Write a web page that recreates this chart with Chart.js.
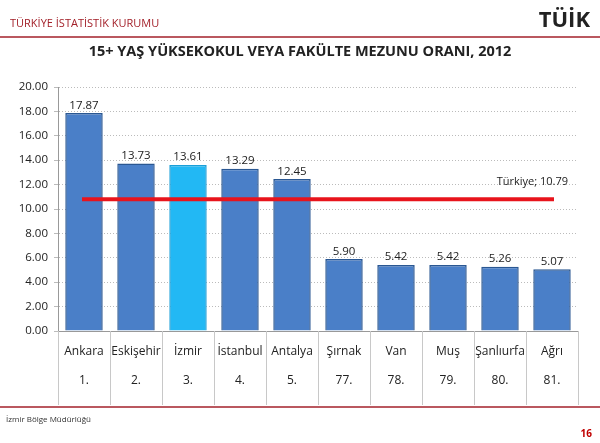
<!DOCTYPE html>
<html><head><meta charset="utf-8">
<script src="https://cdn.jsdelivr.net/npm/chart.js@4/dist/chart.umd.min.js"></script>
<style>body{margin:0;background:#fff}canvas{display:block}</style>
</head><body>
<canvas id="c" width="600" height="443"></canvas>
<script>
const iller = ['Ankara','Eskişehir','İzmir','İstanbul','Antalya','Şırnak','Van','Muş','Şanlıurfa','Ağrı'];
const siralar = ['1.','2.','3.','4.','5.','77.','78.','79.','80.','81.'];
const oranlar = [17.87,13.73,13.61,13.29,12.45,5.90,5.42,5.42,5.26,5.07];
const turkiye = 10.79;
const FONT = '"Open Sans", Lato, sans-serif';

// ......sayfa çerçevesi, etiketler, Türkiye çizgisi.........
const sayfa = {
  id: 'sayfa',
  afterDraw(ch) {
    const c = ch.ctx, x = ch.scales.x, y = ch.scales.y, a = ch.chartArea;
    c.save();
    c.fillStyle = '#a3212a'; c.font = '11px ' + FONT; c.textBaseline = 'middle';
    c.fillText('TÜRKİYE İSTATİSTİK KURUMU', 10, 24);
    c.strokeStyle = '#a3212a'; c.lineWidth = 1.5;
    c.beginPath(); c.moveTo(0, 37); c.lineTo(600, 37); c.stroke();
    c.beginPath(); c.moveTo(0, 407); c.lineTo(600, 407); c.stroke();
    c.font = 'bold 22px ' + FONT; c.textAlign = 'right'; c.fillStyle = '#222';
    c.fillText('TÜİK', 590, 21);
    c.textAlign = 'center'; c.font = 'bold 14.5px ' + FONT;
    c.fillText('15+ YAŞ YÜKSEKOKUL VEYA FAKÜLTE MEZUNU ORANI, 2012', 300, 52);
    c.textAlign = 'left'; c.font = '8px ' + FONT; c.fillStyle = '#333';
    c.fillText('İzmir Bölge Müdürlüğü', 6, 420);
    c.fillStyle = '#c00000'; c.font = 'bold 10px ' + FONT; c.textAlign = 'right';
    c.fillText('16', 592, 434);
    // tablo
    c.strokeStyle = '#c8c8c8'; c.lineWidth = 1;
    const w = x.getPixelForValue(1) - x.getPixelForValue(0);
    for (let i = 0; i <= iller.length; i++) {
      const px = Math.round(x.getPixelForValue(i) - w / 2) + 0.5;
      c.beginPath(); c.moveTo(px, a.bottom); c.lineTo(px, 405); c.stroke();
    }
    c.fillStyle = '#222'; c.font = '12px ' + FONT; c.textAlign = 'center';
    iller.forEach((n, i) => {
      const px = x.getPixelForValue(i);
      c.fillText(n, px, 352);
      c.fillText(siralar[i], px, 381);
    });
    c.font = '11.5px ' + FONT; c.textBaseline = 'bottom';
    ch.getDatasetMeta(0).data.forEach((b, i) => {
      c.fillText(oranlar[i].toFixed(2), b.x, b.y - 2);
    });
    const ty = y.getPixelForValue(turkiye);
    c.strokeStyle = '#e8141c'; c.lineWidth = 4;
    c.beginPath(); c.moveTo(x.getPixelForValue(0) - 2, ty);
    c.lineTo(x.getPixelForValue(iller.length - 1) + 2, ty); c.stroke();
    c.font = '11px ' + FONT; c.textAlign = 'right'; c.fillStyle = '#222';
    c.fillText('Türkiye; ' + turkiye.toFixed(2), 568, ty - 12);
    c.restore();
  }
};

const ctx = document.getElementById('c').getContext('2d');
const chart = new Chart(ctx, {
  type: 'bar',
  data: {
    labels: iller,
    datasets: [{
      data: oranlar,
      backgroundColor: iller.map(n => n === 'İzmir' ? '#22b8f4' : '#4a7fc8'),
      borderColor: iller.map(n => n === 'İzmir' ? '#1a9fd8' : '#2a5792'),
      borderWidth: 1.5,
      categoryPercentage: 1,
      barPercentage: 0.72
    }]
  },
  options: {
    responsive: false,
    animation: false,
    layout: { padding: { top: 87, right: 22, left: 0, bottom: 0 } },
    plugins: { legend: { display: false }, tooltip: { enabled: false } },
    scales: {
      x: {
        grid: { display: false },
        border: { color: '#999' },
        ticks: { display: false },
        afterFit: s => { s.height = 112; }
      },
      y: {
        min: 0, max: 20,
        ticks: { stepSize: 2, callback: v => v.toFixed(2), color: '#222', font: { family: FONT, size: 11.5 }, padding: 6 },
        grid: { color: '#bbb', tickLength: 4 },
        border: { color: '#999', dash: [1, 2] },
        afterFit: s => { s.width = 58; }
      }
    }
  },
  plugins: [sayfa]
});
</script>
</body></html>
